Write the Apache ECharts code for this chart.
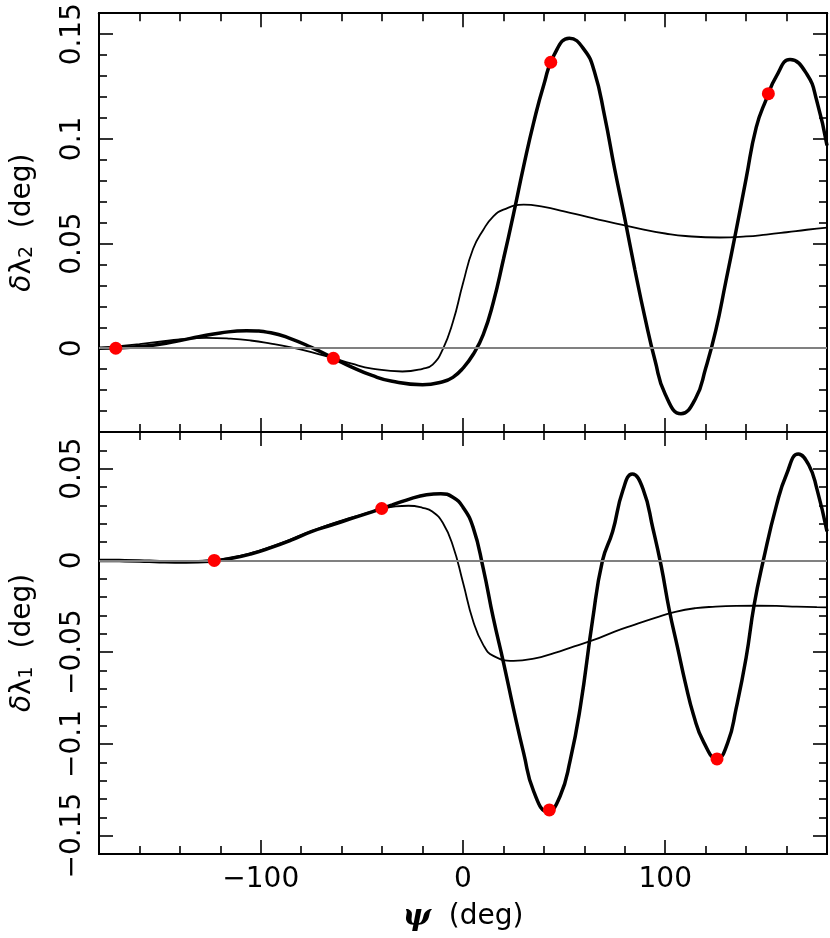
<!DOCTYPE html>
<html>
<head>
<meta charset="utf-8">
<title>dlambda vs psi</title>
<script src="https://cdn.jsdelivr.net/npm/echarts@6.0.0/dist/echarts.min.js"></script>
<style>
  html, body { margin: 0; padding: 0; background: #fff; }
  #chart { width: 830px; height: 938px; }
</style>
</head>
<body>
<div id="chart"></div>
<script>
// top panel: delta lambda_2 (psi in deg, value in deg)
const psi2Thick = [-180, -170, -160, -150, -140, -130, -120, -107, -95, -85, -75, -65, -55, -45, -35, -20, -10, -5,
  0, 5, 10, 15, 20, 25, 30, 35, 40, 45, 52.6, 60, 65, 70, 75, 80, 85, 90, 95, 100, 107.8,
  115, 120, 125, 130, 135, 140, 145, 150, 155, 161.7, 170, 175, 180]
const dl2Thick = [0.0000, 0.0002, 0.0008, 0.0019, 0.0037, 0.0056, 0.0073, 0.0084, 0.0074, 0.0045, 0.0004, -0.0043, -0.0090, -0.0130, -0.0158, -0.0174, -0.0160, -0.0139,
  -0.0095, -0.0030, 0.0065, 0.0220, 0.0425, 0.0642, 0.0870, 0.1080, 0.1260, 0.1400, 0.1481, 0.1425, 0.1320, 0.1110, 0.0856, 0.0620, 0.0375, 0.0145, -0.0060, -0.0220, -0.0313,
  -0.0240, -0.0095, 0.0085, 0.0320, 0.0560, 0.0810, 0.1055, 0.1190, 0.1300, 0.1379, 0.1310, 0.1180, 0.0968]
const psi2Thin = [-180, -170, -160, -150, -140, -127, -115, -105, -95, -85, -75, -65, -55, -45, -30, -20, -15, -10, -5,
  0, 5, 10, 15, 20, 30, 40, 50, 60, 70, 80, 90, 100, 110, 127, 140, 150, 160, 170, 180]
const dl2Thin = [0.0000, 0.0010, 0.0020, 0.0031, 0.0042, 0.0050, 0.0046, 0.0037, 0.0022, 0.0004, -0.0018, -0.0045, -0.0074, -0.0097, -0.0111, -0.0098, -0.0078, -0.0005, 0.0125,
  0.0310, 0.0475, 0.0565, 0.0630, 0.0662, 0.0686, 0.0675, 0.0654, 0.0631, 0.0608, 0.0587, 0.0565, 0.0548, 0.0536, 0.0529, 0.0534, 0.0543, 0.0554, 0.0566, 0.0576]
const dl2Dots = [[-171.7, 0.0000], [-64.1, -0.0048], [43.4, 0.1366], [151, 0.1216]]

// bottom panel: delta lambda_1
const psi1Thick = [-180, -170, -160, -150, -137, -125, -115, -105, -95, -85, -75, -65, -55, -45, -35, -25, -18, -11, -5,
  0, 5, 10, 15, 20, 25, 30, 35, 42, 48, 53, 58, 64, 69, 74, 79, 83.7, 89, 94, 98,
  102, 106, 110, 114, 119, 125.6, 131, 135, 140, 144, 148.5, 155, 160, 165.8, 171, 175, 180]
const dl1Thick = [0.0000, -0.0001, -0.0003, -0.0007, -0.0009, -0.0005, 0.0010, 0.0035, 0.0070, 0.0111, 0.0157, 0.0193, 0.0229, 0.0265, 0.0302, 0.0340, 0.0358, 0.0364, 0.0345,
  0.0290, 0.0180, -0.0043, -0.0315, -0.0555, -0.0810, -0.1050, -0.1260, -0.1370, -0.1285, -0.1090, -0.0800, -0.0330, 0.0000, 0.0158, 0.0380, 0.0471, 0.0390, 0.0170, -0.0030,
  -0.0270, -0.0470, -0.0670, -0.0842, -0.0990, -0.1082, -0.0990, -0.0810, -0.0530, -0.0240, 0.0000, 0.0300, 0.0470, 0.0580, 0.0520, 0.0390, 0.0158]
const psi1Thin = [-180, -170, -160, -150, -140, -130, -120, -110, -100, -90, -80, -70, -60, -50, -40, -35, -27, -20, -15, -10, -5,
  0, 5, 10, 15, 25, 35, 45, 55, 65, 75, 85, 95, 105, 115, 125, 135, 145, 155, 165, 175, 180]
const dl1Thin = [0.0000, -0.0001, -0.0003, -0.0005, -0.0006, -0.0003, 0.0006, 0.0026, 0.0056, 0.0094, 0.0138, 0.0180, 0.0217, 0.0250, 0.0282, 0.0292, 0.0298, 0.0287, 0.0265, 0.0205, 0.0080,
  -0.0120, -0.0330, -0.0460, -0.0520, -0.0547, -0.0535, -0.0505, -0.0468, -0.0432, -0.0388, -0.0350, -0.0313, -0.0280, -0.0260, -0.0252, -0.0248, -0.0247, -0.0248, -0.0252, -0.0255, -0.0256]
const dl1Dots = [[-123, 0.0000], [-40.2, 0.0283], [42.7, -0.1360], [125.6, -0.1082]]

// tick positions
const xMajor = [-100, 0, 100]
const xMinor = [-160, -140, -120, -80, -60, -40, -20, 20, 40, 60, 80, 120, 140, 160]
const yTopMajor = [0, 0.05, 0.1, 0.15]
const yTopMinor = [-0.03, -0.02, -0.01, 0.01, 0.02, 0.03, 0.04, 0.06, 0.07, 0.08, 0.09, 0.11, 0.12, 0.13, 0.14]
const yBotMajor = [-0.15, -0.1, -0.05, 0, 0.05]
const yBotMinor = [-0.14, -0.13, -0.12, -0.11, -0.09, -0.08, -0.07, -0.06, -0.04, -0.03, -0.02, -0.01, 0.01, 0.02, 0.03, 0.04, 0.06]

const font = 'DejaVu Sans'
const minus = v => String(v).replace('-', '\u2212')
const zip = (xs, ys) => xs.map((x, i) => [x, ys[i]])

function axis(grid, pos, min, max, ticks, len, extra) {
	return Object.assign({
		type: 'value',
		gridIndex: grid,
		position: pos,
		min: min,
		max: max,
		axisLine: { show: true, onZero: false, lineStyle: { color: '#000', width: 2 } },
		axisTick: { show: true, inside: true, length: len, customValues: ticks, lineStyle: { color: '#000', width: 1.6 } },
		axisLabel: { show: false },
		splitLine: { show: false },
	}, extra || {})
}

const yName = sub => ({
	name: '{d|δ}λ{s|' + sub + '}  (deg)',
	nameLocation: 'middle',
	nameRotate: 90,
	nameGap: 62,
	nameTextStyle: {
		fontSize: 28, fontFamily: font, color: '#000',
		rich: {
			d: { fontSize: 28, fontFamily: font, fontStyle: 'italic', color: '#000' },
			s: { fontSize: 19, fontFamily: font, color: '#000', verticalAlign: 'bottom', lineHeight: 12 },
		},
	},
})

const yLabel = vals => ({
	axisLabel: { show: true, customValues: vals, rotate: 90, margin: 12, fontSize: 28, fontFamily: font, color: '#000', formatter: minus },
})

const zeroLine = {
	silent: true,
	symbol: ['none', 'none'],
	label: { show: false },
	lineStyle: { color: '#808080', width: 2, type: 'solid' },
	data: [{ yAxis: 0 }],
}

const curve = (xi, data, width) => ({
	type: 'line', xAxisIndex: xi, yAxisIndex: xi, data: data,
	showSymbol: false, smooth: true,
	lineStyle: { color: '#000', width: width }, z: 3,
})

const chart = echarts.init(document.getElementById('chart'))
chart.setOption({
	animation: false,
	backgroundColor: '#fff',
	grid: [
		{ left: 99, right: 3, top: 11, height: 421 },
		{ left: 99, right: 3, top: 432, height: 422 },
	],
	xAxis: [
		axis(0, 'bottom', -180, 180, xMajor, 14),
		axis(0, 'bottom', -180, 180, xMinor, 8),
		axis(0, 'top', -180, 180, xMajor, 14),
		axis(0, 'top', -180, 180, xMinor, 8),
		axis(1, 'bottom', -180, 180, xMajor, 14, {
			axisLabel: { show: true, customValues: xMajor, margin: 12, fontSize: 28, fontFamily: font, color: '#000', formatter: minus },
			name: '{p|ψ}  (deg)',
			nameLocation: 'middle',
			nameGap: 48,
			nameTextStyle: {
				fontSize: 28, fontFamily: font, color: '#000',
				rich: { p: { fontSize: 30, fontFamily: 'DejaVu Serif', fontStyle: 'italic', fontWeight: 'bold', color: '#000' } },
			},
		}),
		axis(1, 'bottom', -180, 180, xMinor, 8),
		axis(1, 'top', -180, 180, xMajor, 14),
		axis(1, 'top', -180, 180, xMinor, 8),
	],
	yAxis: [
		axis(0, 'left', -0.04, 0.16, yTopMajor, 14, Object.assign(yLabel(yTopMajor), yName('2'))),
		axis(0, 'left', -0.04, 0.16, yTopMinor, 8),
		axis(0, 'right', -0.04, 0.16, yTopMajor, 14),
		axis(0, 'right', -0.04, 0.16, yTopMinor, 8),
		axis(1, 'left', -0.16, 0.07, yBotMajor, 14, Object.assign(yLabel(yBotMajor), yName('1'))),
		axis(1, 'left', -0.16, 0.07, yBotMinor, 8),
		axis(1, 'right', -0.16, 0.07, yBotMajor, 14),
		axis(1, 'right', -0.16, 0.07, yBotMinor, 8),
	],
	series: [
		Object.assign(curve(0, zip(psi2Thin, dl2Thin), 1.8), { markLine: zeroLine, z: 2 }),
		curve(0, zip(psi2Thick, dl2Thick), 3.5),
		{
			type: 'scatter', xAxisIndex: 0, yAxisIndex: 0, data: dl2Dots,
			symbolSize: 13, itemStyle: { color: '#ff0000', opacity: 1 }, z: 5,
		},
		Object.assign(curve(4, zip(psi1Thin, dl1Thin), 1.8), { markLine: zeroLine, z: 2 }),
		curve(4, zip(psi1Thick, dl1Thick), 3.5),
		{
			type: 'scatter', xAxisIndex: 4, yAxisIndex: 4, data: dl1Dots,
			symbolSize: 13, itemStyle: { color: '#ff0000', opacity: 1 }, z: 5,
		},
	],
})
</script>
</body>
</html>
